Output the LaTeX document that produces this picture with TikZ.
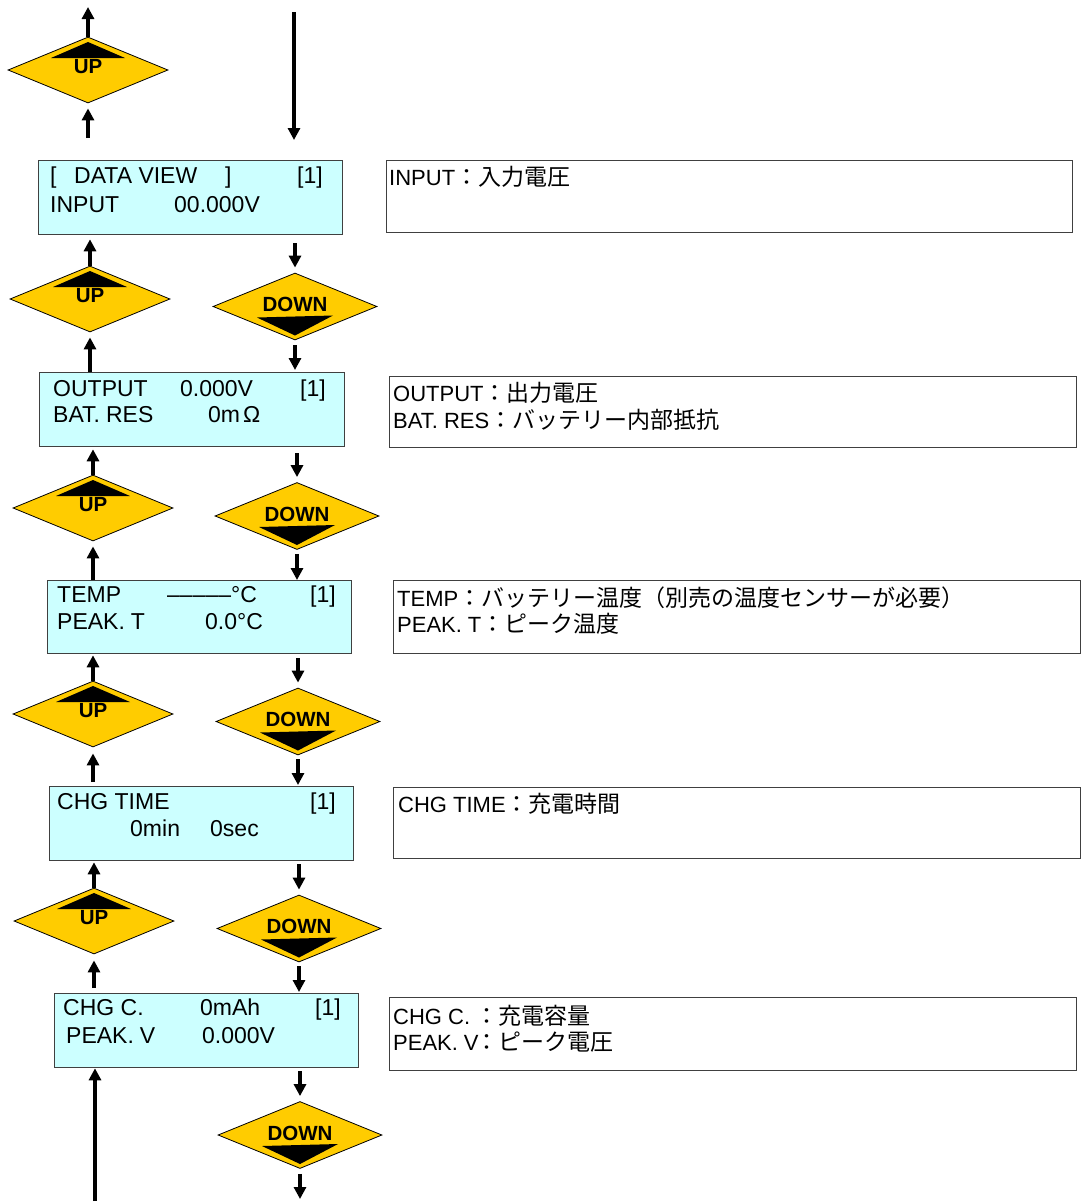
\documentclass[tikz,border=0pt]{standalone}
\usepackage{fontspec}
\setmainfont{Liberation Sans}
\newfontfamily\jpfont{Noto Sans CJK JP}
\usetikzlibrary{shapes.geometric,arrows.meta}
\definecolor{lcd}{HTML}{CCFFFF}
\definecolor{gold}{HTML}{FFCC00}
\definecolor{frame}{HTML}{404040}
\newcommand\jtx[1]{{\jpfont\fontsize{23pt}{27pt}\selectfont #1}}
\newcommand\xgap{\hspace{6pt}}
\tikzset{
  screen/.style={draw=frame, line width=1.3pt, fill=lcd, anchor=north west, inner sep=0pt},
  note/.style={draw=frame, line width=1.3pt, fill=white, anchor=north west, inner sep=0pt},
  lcdtxt/.style={anchor=base west, inner sep=0pt, font=\fontsize{23pt}{27pt}\selectfont},
  notetxt/.style={anchor=base west, inner sep=0pt, font=\fontsize{22pt}{26pt}\selectfont},
  key/.style={diamond, draw=black, line width=0.8pt, fill=gold, inner sep=0pt, minimum width=160pt, minimum height=66pt},
  keytxt/.style={inner sep=0pt, font=\bfseries\fontsize{20.5pt}{24pt}\selectfont},
  arr/.style={line width=3.5pt, -{Triangle[width=12pt,length=12pt]}},
}
\begin{document}
\begin{tikzpicture}[x=1pt,y=-1pt]
\useasboundingbox[fill=white] (0,0) rectangle (1084,1203);

% ---- screens ----
\node[screen, minimum width=304pt, minimum height=74pt] (s1) at (38,160) {};
\node[screen, minimum width=305pt, minimum height=74pt] (s2) at (39,372) {};
\node[screen, minimum width=304pt, minimum height=73pt] (s3) at (47,580) {};
\node[screen, minimum width=304pt, minimum height=74pt] (s4) at (49,786) {};
\node[screen, minimum width=304pt, minimum height=74pt] (s5) at (54,993) {};

% ---- notes ----
\node[note, minimum width=686pt, minimum height=72pt] (r1) at (386,160) {};
\node[note, minimum width=687pt, minimum height=71pt] (r2) at (389,376) {};
\node[note, minimum width=687pt, minimum height=73pt] (r3) at (393,580) {};
\node[note, minimum width=687pt, minimum height=71pt] (r4) at (393,787) {};
\node[note, minimum width=687pt, minimum height=73pt] (r5) at (389,997) {};

% ---- screen texts ----
\node[lcdtxt] (t11) at (50,183) {[};
\node[lcdtxt] (t12) at (74,183) {DATA VIEW};
\node[lcdtxt] (t13) at (225,183) {]};
\node[lcdtxt] (t14) at (297,183) {[1]};
\node[lcdtxt] (t15) at (50,212) {INPUT};
\node[lcdtxt] (t16) at (174,212) {00.000V};

\node[lcdtxt] (t21) at (53,396) {OUTPUT};
\node[lcdtxt] (t22) at (180,396) {0.000V};
\node[lcdtxt] (t23) at (300,396) {[1]};
\node[lcdtxt] (t24) at (53,422) {BAT.\xgap RES};
\node[lcdtxt] (t25) at (208,422) {0m\hspace{3pt}Ω};

\node[lcdtxt] (t31) at (57,602) {TEMP};
\node[lcdtxt] (t32) at (167,602) {–––––°C};
\node[lcdtxt] (t33) at (310,602) {[1]};
\node[lcdtxt] (t34) at (57,629) {PEAK.\xgap T};
\node[lcdtxt] (t35) at (205,629) {0.0°C};

\node[lcdtxt] (t41) at (57,809) {CHG TIME};
\node[lcdtxt] (t42) at (310,809) {[1]};
\node[lcdtxt] (t43) at (130,836) {0min};
\node[lcdtxt] (t44) at (210,836) {0sec};

\node[lcdtxt] (t51) at (63,1015) {CHG C.};
\node[lcdtxt] (t52) at (200,1015) {0mAh};
\node[lcdtxt] (t53) at (315,1015) {[1]};
\node[lcdtxt] (t54) at (66,1043) {PEAK.\xgap V};
\node[lcdtxt] (t55) at (202,1043) {0.000V};

% ---- note texts ----
\node[notetxt] (n11) at (389,185) {INPUT\jtx{：入力電圧}};
\node[notetxt] (n21) at (393,401) {OUTPUT\jtx{：出力電圧}};
\node[notetxt] (n22) at (393,428) {BAT.\xgap RES\jtx{：バッテリー内部抵抗}};
\node[notetxt] (n31) at (397,606) {TEMP\jtx{：バッテリー温度（別売の温度センサーが必要）}};
\node[notetxt] (n32) at (397,632) {PEAK.\xgap T\jtx{：ピーク温度}};
\node[notetxt] (n41) at (398,812) {CHG TIME\jtx{：充電時間}};
\node[notetxt] (n51) at (393,1024) {\makebox[82pt][l]{CHG C.}\jtx{：充電容量}};
\node[notetxt] (n52) at (393,1050) {\makebox[82pt][l]{PEAK.\xgap V}\jtx{：ピーク電圧}};

% ---- UP keys ----
\node[key] (u1) at (88,70) {};
\node[key] (u2) at (90,299) {};
\node[key] (u3) at (93,508) {};
\node[key] (u4) at (93,714) {};
\node[key] (u5) at (94,921) {};
\foreach \k in {u1,u2,u3,u4,u5}{
  \fill[black] ([shift={(-37,-12)}]\k.center) -- ([shift={(37,-12)}]\k.center) -- ([shift={(0,-28)}]\k.center) -- cycle;
  \node[keytxt] (\k t) at ([shift={(0,-3.5)}]\k.center) {UP};
}

% ---- DOWN keys ----
\node[key, minimum width=164pt, minimum height=67pt] (d1) at (295,306.5) {};
\node[key, minimum width=164pt, minimum height=67pt] (d2) at (297,516) {};
\node[key, minimum width=164pt, minimum height=67pt] (d3) at (298,721.5) {};
\node[key, minimum width=164pt, minimum height=67pt] (d4) at (299,928.5) {};
\node[key, minimum width=164pt, minimum height=67pt] (d5) at (300,1135) {};
\foreach \k in {d1,d2,d3,d4,d5}{
  \fill[black] ([shift={(-38,11)}]\k.center) -- ([shift={(38,9)}]\k.center) -- ([shift={(0,29)}]\k.center) -- cycle;
  \node[keytxt] (\k t) at ([shift={(0,-2)}]\k.center) {DOWN};
}

% ---- free ends ----
\coordinate (tl) at (88,7);
\coordinate (tr) at (294,12);
\coordinate (bl) at (95,1201);
\coordinate (br) at (300,1199);

% ---- UP path ----
\draw[arr] (u1.north) -- (tl);
\draw[arr, shorten <=22pt, shorten >=5pt] (u1.south |- s1.north) -- (u1.south);
\draw[arr, shorten >=4pt] (u2.north) -- (u2.north |- s1.south);
\draw[arr, shorten >=5pt] (u2.south |- s2.north) -- (u2.south);
\draw[arr, shorten >=2pt] (u3.north) -- (u3.north |- s2.south);
\draw[arr, shorten >=5pt] (u3.south |- s3.north) -- (u3.south);
\draw[arr, shorten >=1pt] (u4.north) -- (u4.north |- s3.south);
\draw[arr, shorten <=4pt, shorten >=6pt] (u4.south |- s4.north) -- (u4.south);
\draw[arr, shorten >=1pt] (u5.north) -- (u5.north |- s4.south);
\draw[arr, shorten <=5pt, shorten >=6pt] (u5.south |- s5.north) -- (u5.south);
\draw[arr] (bl) -- (bl |- s5.south);

% ---- DOWN path ----
\draw[arr, shorten >=20pt] (tr) -- (tr |- s1.north);
\draw[arr, shorten <=8pt, shorten >=5pt] (d1.north |- s1.south) -- (d1.north);
\draw[arr, shorten <=5pt, shorten >=2pt] (d1.south) -- (d1.south |- s2.north);
\draw[arr, shorten <=6pt, shorten >=5pt] (d2.north |- s2.south) -- (d2.north);
\draw[arr, shorten <=4pt] (d2.south) -- (d2.south |- s3.north);
\draw[arr, shorten <=4pt, shorten >=5pt] (d3.north |- s3.south) -- (d3.north);
\draw[arr, shorten <=4pt, shorten >=1pt] (d3.south) -- (d3.south |- s4.north);
\draw[arr, shorten <=3pt, shorten >=5pt] (d4.north |- s4.south) -- (d4.north);
\draw[arr, shorten <=4pt, shorten >=1pt] (d4.south) -- (d4.south |- s5.north);
\draw[arr, shorten <=3pt, shorten >=5pt] (d5.north |- s5.south) -- (d5.north);
\draw[arr, shorten <=5pt] (d5.south) -- (br);
\end{tikzpicture}
\end{document}
